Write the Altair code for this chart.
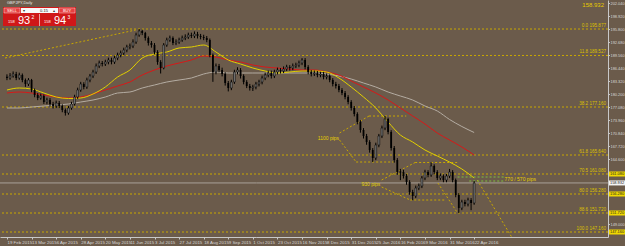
import altair as alt
import pandas as pd

# ---------------- data ----------------
closes = [184.12,184.60,185.08,184.12,184.84,183.64,182.68,183.64,181.24,180.04,
          179.32,179.80,178.36,178.84,177.88,177.40,178.12,177.40,176.44,175.72,
          176.92,177.88,179.56,181.24,182.68,181.96,183.64,184.60,185.56,187.00,
          187.72,187.48,187.96,188.44,187.96,188.92,189.64,190.12,190.84,191.56,
          191.80,192.76,194.44,195.40,194.92,193.72,192.52,192.04,190.36,187.96,
          186.52,192.04,193.24,193.72,192.52,192.76,193.24,193.72,193.96,194.44,
          194.20,194.68,194.20,193.96,193.72,193.24,189.64,185.56,187.00,186.04,
          185.08,182.92,181.72,183.16,185.56,186.04,184.60,183.16,182.20,181.72,
          181.96,182.68,183.16,184.12,184.84,185.32,184.60,185.56,186.04,185.80,
          186.28,186.76,186.52,187.00,187.24,187.72,188.44,186.76,185.56,185.08,
          185.32,184.84,185.08,184.36,184.60,183.64,182.68,182.20,181.24,180.52,
          179.56,178.36,176.92,175.48,173.56,171.64,170.20,168.76,166.84,164.92,
          168.04,170.20,172.12,174.28,171.16,167.32,164.44,161.56,161.56,160.60,
          159.16,156.76,155.80,157.72,158.20,160.12,161.56,160.84,163.00,161.56,
          160.12,160.60,159.64,160.60,161.56,159.64,156.04,152.92,154.36,153.88,
          154.84,154.12,158.93]
highs = [185.0,185.3,185.7,185.6,185.4,185.2,184.0,184.1,183.9,181.6,
         180.5,180.4,180.2,179.4,179.3,178.4,178.7,178.6,177.8,176.8,
         177.4,178.4,180.1,181.8,183.2,183.1,184.2,185.1,186.1,187.6,
         188.3,188.2,188.5,189.0,189.0,189.5,190.2,190.7,191.4,192.1,
         192.4,193.4,195.0,195.88,195.7,195.2,194.1,193.0,192.5,190.8,
         188.4,192.5,193.8,194.3,194.1,193.4,193.8,194.3,194.6,195.0,
         195.0,195.3,195.2,194.7,194.5,194.2,193.6,190.0,187.6,187.5,
         186.6,185.5,183.4,183.7,186.1,186.7,186.5,185.0,183.6,182.7,
         182.5,183.2,183.7,184.7,185.4,185.9,185.9,186.1,186.6,186.5,
         186.9,187.3,187.2,187.6,187.8,188.3,188.9,188.9,187.2,186.0,
         185.9,185.8,185.6,185.6,185.2,185.0,184.1,183.2,182.7,181.7,
         181.0,180.0,178.8,177.4,175.9,174.0,172.1,170.7,169.2,167.3,
         168.6,170.7,172.7,175.0,174.6,171.6,167.8,164.9,162.3,162.1,
         161.1,159.6,157.3,158.3,158.8,160.6,162.1,162.0,163.9,163.4,
         162.0,161.2,161.0,161.1,162.3,162.0,160.0,156.5,154.9,154.9,
         155.4,155.3,159.4]
lows = [183.6,183.7,184.2,183.6,183.7,183.1,182.0,182.2,180.7,179.5,
        178.8,178.9,177.9,177.8,177.3,176.8,176.9,176.9,175.9,175.1,
        175.3,176.5,177.5,179.1,180.8,181.4,181.5,183.1,184.1,185.1,
        186.5,186.9,187.0,187.4,187.4,187.5,188.4,189.1,189.6,190.3,
        191.0,191.3,192.3,194.0,194.4,193.1,191.9,191.4,189.8,187.3,
        185.2,186.2,191.6,192.8,192.0,192.0,192.3,192.8,193.2,193.5,
        193.7,193.7,193.6,193.4,193.2,192.7,189.1,183.2,185.0,185.5,
        184.5,182.3,180.9,181.2,182.7,185.0,184.0,182.6,181.7,181.1,
        181.0,181.4,182.1,182.6,183.6,184.3,184.0,184.1,185.0,185.2,
        185.3,185.8,185.9,186.0,186.5,186.7,187.2,186.2,185.0,184.5,
        184.6,184.3,184.3,183.8,183.8,183.1,182.1,181.6,180.7,180.0,
        179.0,177.8,176.3,174.9,173.0,171.0,169.6,168.1,166.2,163.96,
        164.4,167.5,169.7,171.6,170.6,166.7,163.8,160.9,159.6,160.0,
        158.5,156.1,154.8,155.3,157.2,157.7,159.6,160.3,160.4,161.0,
        159.6,159.6,159.1,159.1,160.1,159.1,155.5,151.7,152.4,153.3,
        153.3,152.4,153.7]
first_open = 184.40

ma_step = 4
ma_yellow = [181.24,181.72,181.48,180.52,179.56,179.20,179.32,180.28,181.96,184.36,
             186.04,188.92,189.88,190.36,191.32,191.56,192.04,190.36,188.44,187.48,
             186.52,185.80,185.32,185.56,185.80,185.80,185.56,184.12,181.96,179.56,
             176.92,173.56,170.44,168.76,166.84,165.40,163.96,162.28,160.12]
ma_red = [180.52,180.76,180.52,180.04,179.56,179.32,179.56,180.28,181.24,182.20,
          183.16,184.84,186.04,187.00,187.72,188.44,189.40,189.16,188.44,187.96,
          187.24,186.76,186.52,186.28,186.04,186.04,185.56,184.84,183.40,181.96,
          180.52,178.84,176.92,175.00,173.08,170.92,169.24,167.56,165.64]
ma_grey = [176.92,176.92,177.16,177.40,177.64,177.88,178.36,178.84,179.56,180.52,
           180.76,181.72,182.44,183.16,183.64,184.12,185.08,185.56,185.32,185.32,
           185.32,185.32,185.32,185.32,185.32,185.32,185.08,184.60,183.88,182.92,
           181.96,180.76,179.80,178.84,177.40,176.20,174.16,172.48,171.04]

date_labels = ["19 Feb 2015","13 Mar 2015","6 Apr 2015","28 Apr 2015","20 May 2015",
               "11 Jun 2015","3 Jul 2015","27 Jul 2015","18 Aug 2015","9 Sep 2015",
               "1 Oct 2015","23 Oct 2015","16 Nov 2015","8 Dec 2015","31 Dec 2015",
               "25 Jan 2016","16 Feb 2016","9 Mar 2016","31 Mar 2016","22 Apr 2016"]
date_step = 8

price_ticks = [202.040,198.920,195.800,192.680,189.560,186.440,183.320,180.200,177.080,
               173.960,170.840,167.720,164.600,149.000]

fib_prices = [195.877,189.527,177.160,165.640,161.080,156.280,151.720,147.160]
fib_labels = ["0.0 195.877","11.8 189.527","38.2 177.160","61.8 165.640",
              "70.5 161.080","80.0 156.280","88.6 151.720","100.0 147.160"]
boxed_prices = [161.080,156.280,151.720,147.160]
bid_price = 158.932

# annotation segments: k1, p1, k2, p2
seg_k1 = [-0.64,108.2,117.8,108.2,113.6,121.9,132.8,121.9,131.2,140.2,153.0]
seg_p1 = [188.92,170.92,175.00,169.24,163.96,159.64,163.84,157.96,154.84,158.92,159.64]
seg_k2 = [41.9,117.8,129.9,113.6,125.8,132.8,146.6,131.2,142.4,146.6,164.2]
seg_p2 = [195.64,175.00,175.00,163.96,163.96,163.84,163.84,154.84,154.84,151.72,145.96]
green_k1 = [146.6,150.4]
green_k2 = [161.6,161.6]
green_p = [160.36,159.40]

note_text = ["1100 pips","930 pips","770 / 570 pips"]
note_k = [104.6,118.4,161.9]
note_p = [169.72,158.68,159.88]
note_align = ["center","center","left"]

# ---------------- build ----------------
FONT = "Liberation Sans"
bg = "#6b5b4b"
fibc = "#c9a800"
X = alt.Scale(domain=[-0.64, 193.92], nice=False, zero=False)
Y = alt.Scale(domain=[145.96, 202.84], nice=False, zero=False)

opens = [first_open] + closes[:-1]
cdf = pd.DataFrame({"k": range(len(closes)), "open": opens, "close": closes,
                    "high": highs, "low": lows})
cdf["dir"] = ["up" if c >= o else "down" for o, c in zip(opens, closes)]

arr = "[" + ",".join("'%s'" % d for d in date_labels) + "]"
xaxis = alt.Axis(values=[i * date_step for i in range(len(date_labels))],
                 labelExpr=arr + "[round(datum.value/%d)]" % date_step,
                 labelAlign="left", labelFontSize=4.4, labelFont=FONT, labelColor="#d8d8d8",
                 labelPadding=1, labelOverlap=False, labelFlush=False, labelBound=False,
                 tickSize=2, tickColor="#c8c8c8", domainColor="#c8c8c8", grid=False,
                 title=None, orient="bottom", offset=0)
yaxis = alt.Axis(values=price_ticks, format=".3f", orient="right", labelFontSize=3.9,
                 labelFont=FONT, labelColor="#d8d8d8", labelPadding=0.5, tickSize=1.5,
                 tickColor="#c8c8c8", domainColor="#c8c8c8", grid=False, title=None,
                 labelOverlap=False, labelFlush=False, labelBound=False)

fib_df = pd.DataFrame({"p": fib_prices, "label": fib_labels})
fib_rules = alt.Chart(fib_df).mark_rule(color=fibc, strokeDash=[2, 2], strokeWidth=1).encode(
    y=alt.Y("p:Q", scale=Y, axis=None))
fib_text = alt.Chart(fib_df).mark_text(align="right", baseline="bottom", fontSize=4.6, font=FONT,
                                       color="#dcc000", dy=-1).encode(
    x=alt.value(606), y=alt.Y("p:Q", scale=Y, axis=None), text="label:N")

bid_rule = alt.Chart(pd.DataFrame({"p": [bid_price]})).mark_rule(color="#a8a098", strokeWidth=1).encode(
    y=alt.Y("p:Q", scale=Y, axis=None))

ma_k = [i * ma_step for i in range(len(ma_yellow))]
def ma_layer(vals, color):
    d = pd.DataFrame({"k": ma_k, "p": vals})
    return alt.Chart(d).mark_line(strokeWidth=1, interpolate="monotone", color=color).encode(
        x=alt.X("k:Q", scale=X, axis=None), y=alt.Y("p:Q", scale=Y, axis=None))
ma_lines = [ma_layer(ma_grey, "#b4aca2"), ma_layer(ma_red, "#d81818"), ma_layer(ma_yellow, "#e2d000")]

wick = alt.Chart(cdf).mark_rule(color="#000000", strokeWidth=1).encode(
    x=alt.X("k:Q", scale=X, axis=xaxis), y=alt.Y("low:Q", scale=Y, axis=yaxis), y2="high:Q")
body_dn = alt.Chart(cdf[cdf.dir == "down"]).mark_bar(size=1.8, color="#000000").encode(
    x=alt.X("k:Q", scale=X, axis=None), y=alt.Y("open:Q", scale=Y, axis=None), y2="close:Q")
body_up = alt.Chart(cdf[cdf.dir == "up"]).mark_bar(size=1.8, color="#7a7a7a", stroke="#000000",
                                                  strokeWidth=0.5).encode(
    x=alt.X("k:Q", scale=X, axis=None), y=alt.Y("open:Q", scale=Y, axis=None), y2="close:Q")

seg_df = pd.DataFrame({"k1": seg_k1, "p1": seg_p1, "k2": seg_k2, "p2": seg_p2})
segs = alt.Chart(seg_df).mark_rule(color=fibc, strokeDash=[2, 2], strokeWidth=1).encode(
    x=alt.X("k1:Q", scale=X, axis=None), y=alt.Y("p1:Q", scale=Y, axis=None), x2="k2:Q", y2="p2:Q")
g_df = pd.DataFrame({"k1": green_k1, "k2": green_k2, "p": green_p})
greens = alt.Chart(g_df).mark_rule(color="#7fc040", strokeDash=[2, 2], strokeWidth=1).encode(
    x=alt.X("k1:Q", scale=X, axis=None), x2="k2:Q", y=alt.Y("p:Q", scale=Y, axis=None))

n_df = pd.DataFrame({"t": note_text, "k": note_k, "p": note_p, "a": note_align})
notes_c = alt.Chart(n_df[n_df.a == "center"]).mark_text(fontSize=5, font=FONT, color="#e6d000",
                                                      align="center", baseline="middle").encode(
    x=alt.X("k:Q", scale=X, axis=None), y=alt.Y("p:Q", scale=Y, axis=None), text="t:N")
notes_l = alt.Chart(n_df[n_df.a == "left"]).mark_text(fontSize=5, font=FONT, color="#e6d000",
                                                    align="left", baseline="middle").encode(
    x=alt.X("k:Q", scale=X, axis=None), y=alt.Y("p:Q", scale=Y, axis=None), text="t:N")

# price boxes on the right axis
box_df = pd.DataFrame({"p": boxed_prices, "lo": [p - 0.6 for p in boxed_prices],
                       "hi": [p + 0.6 for p in boxed_prices],
                       "t": ["%.3f" % p for p in boxed_prices]})
boxes = alt.Chart(box_df).mark_rect(color="#f0d800").encode(
    x=alt.value(609), x2=alt.value(625), y=alt.Y("lo:Q", scale=Y, axis=None), y2="hi:Q")
box_t = alt.Chart(box_df).mark_text(fontSize=3.9, font=FONT, color="#202020", align="left",
                                    baseline="middle").encode(
    x=alt.value(610), y=alt.Y("p:Q", scale=Y, axis=None), text="t:N")
bid_df = pd.DataFrame({"p": [bid_price], "lo": [bid_price - 0.6], "hi": [bid_price + 0.6],
                       "t": ["%.3f" % bid_price]})
bid_box = alt.Chart(bid_df).mark_rect(color="#f4f4f4").encode(
    x=alt.value(609), x2=alt.value(625), y=alt.Y("lo:Q", scale=Y, axis=None), y2="hi:Q")
bid_t = alt.Chart(bid_df).mark_text(fontSize=3.9, font=FONT, color="#202020", align="left",
                                    baseline="middle").encode(
    x=alt.value(610), y=alt.Y("p:Q", scale=Y, axis=None), text="t:N")
top_price = alt.Chart(bid_df).mark_text(fontSize=6, font=FONT, color="#e6c800", align="right",
                                        baseline="middle").encode(
    x=alt.value(604), y=alt.value(5), text="t:N")

# one-click trading panel and title (screen widgets)
one = pd.DataFrame({"a": [0]})
panel = alt.Chart(one).mark_rect(color="#d01818").encode(
    x=alt.value(3), x2=alt.value(76), y=alt.value(7), y2=alt.value(26))
btn_sell = alt.Chart(one).mark_rect(color="#e84040", stroke="#ffffff", strokeWidth=0.4).encode(
    x=alt.value(4), x2=alt.value(20), y=alt.value(8), y2=alt.value(13))
btn_buy = alt.Chart(one).mark_rect(color="#e84040", stroke="#ffffff", strokeWidth=0.4).encode(
    x=alt.value(59), x2=alt.value(75), y=alt.value(8), y2=alt.value(13))
lot_box = alt.Chart(one).mark_rect(color="#f8f8f8").encode(
    x=alt.value(21), x2=alt.value(58), y=alt.value(8), y2=alt.value(13))
sep = alt.Chart(one).mark_rule(color="#ffffff", strokeWidth=0.6).encode(
    x=alt.value(39.5), y=alt.value(14), y2=alt.value(26))

def txt(s, x, y, size, color="#ffffff", align="left", bold=False):
    return alt.Chart(one).mark_text(text=s, fontSize=size, font=FONT, color=color, align=align,
                                    baseline="middle",
                                    fontWeight="bold" if bold else "normal").encode(
        x=alt.value(x), y=alt.value(y))

panel_txt = [txt("SELL", 12, 10.6, 4, align="center"), txt("BUY", 67, 10.6, 4, align="center"),
             txt("0.15", 44, 10.6, 4, color="#202020", align="center"),
             txt("\u25be", 23, 10.6, 4, color="#303030"), txt("\u25b4", 53, 10.6, 4, color="#303030"),
             txt("158", 8, 22, 4), txt("93", 18, 20.5, 11), txt("2", 31.5, 16.5, 5),
             txt("158", 44, 22, 4), txt("94", 54, 20.5, 11), txt("3", 67.5, 16.5, 5),
             txt("GBPJPY,Daily", 7, 3, 4, color="#e8e8e8")]

layers = [fib_rules, bid_rule] + ma_lines + [segs, greens, wick, body_dn, body_up, fib_text,
          notes_c, notes_l, boxes, box_t, bid_box, bid_t, top_price, panel, btn_sell, btn_buy,
          lot_box, sep] + panel_txt

chart = alt.layer(*layers).resolve_axis(x="independent", y="independent").properties(
    width=608, height=237, background=bg,
    padding={"left": 0, "top": 0, "right": 17, "bottom": 9}, autosize="none"
).configure_view(stroke=None)

chart.save("out.html", embed_options={"renderer": "svg", "actions": False})
